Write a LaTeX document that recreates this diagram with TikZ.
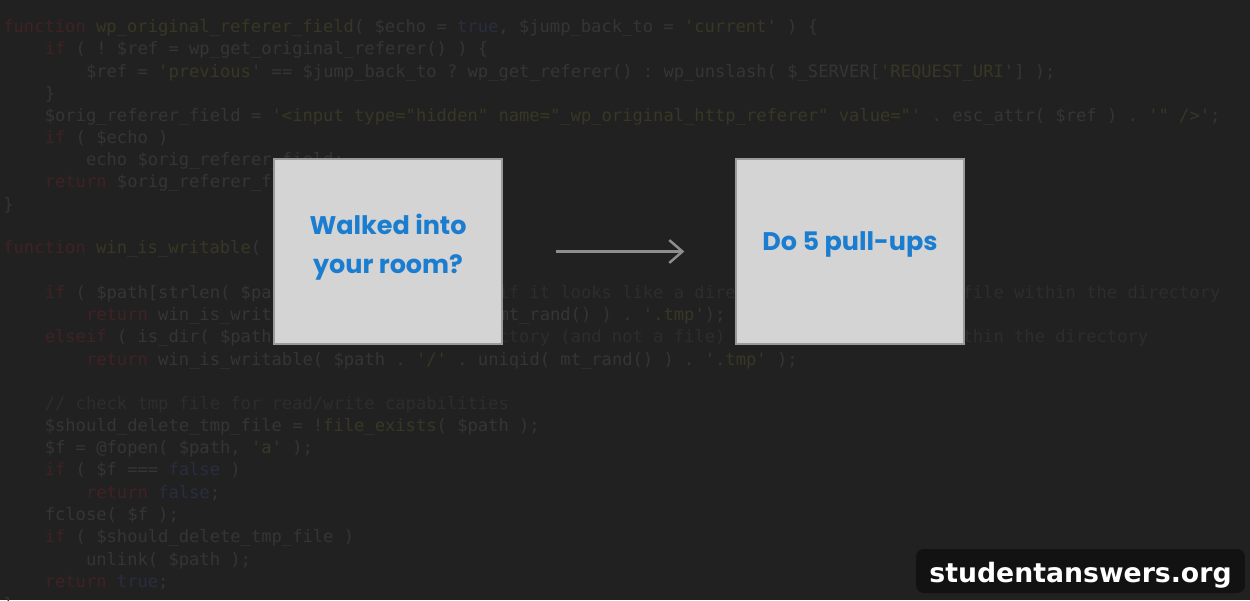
\documentclass[tikz,border=0pt]{standalone}
\usepackage{fontspec}
\setmonofont{DejaVu Sans Mono}
\newfontfamily\cardfont{Poppins}
\newfontfamily\badgefont{DejaVu Sans}
\usetikzlibrary{arrows.meta,positioning}
\definecolor{Board}{HTML}{212121}
\definecolor{CodeInk}{HTML}{353535}
\definecolor{CodeKey}{HTML}{402224}
\definecolor{CodeFun}{HTML}{383725}
\definecolor{CodeLit}{HTML}{2A2D3F}
\definecolor{CodeNote}{HTML}{2D2D2D}
\definecolor{Card}{HTML}{D4D4D4}
\definecolor{CardEdge}{HTML}{9A9A9A}
\definecolor{CardInk}{HTML}{1B7DCF}
\definecolor{Pointer}{HTML}{8E8E8E}
\definecolor{Badge}{HTML}{121212}
\newcommand{\kw}[1]{\textcolor{CodeKey}{#1}}
\newcommand{\fn}[1]{\textcolor{CodeFun}{#1}}
\newcommand{\lit}[1]{\textcolor{CodeLit}{#1}}
\newcommand{\note}[1]{\textcolor{CodeNote}{#1}}
\tikzset{
  code/.style={anchor=west,inner sep=0pt,yshift=-0.05cm,text=CodeInk,font=\ttfamily\fontsize{9.75}{12}\selectfont},
  card/.style={rectangle,fill=Card,draw=CardEdge,line width=1.1pt,minimum width=4.55cm,minimum height=3.7cm,inner sep=0pt},
  cardtext/.style={align=center,text=CardInk,font=\cardfont\bfseries\fontsize{14.5}{22.2}\selectfont},
  flow/.style={-{Straight Barb[length=7.5pt,width=13pt,line width=1.4pt]},draw=Pointer,line width=1.5pt},
  badge/.style={rectangle,rounded corners=4.5pt,fill=Badge,minimum width=6.58cm,minimum height=0.88cm,inner sep=0pt},
  badgetext/.style={text=white,font=\badgefont\bfseries\fontsize{15.2}{18}\selectfont}
}
\begin{document}
\begin{tikzpicture}[x=0.02cm,y=-0.02cm]
  \clip (0,0) rectangle (1250,600);
  \fill[Board] (0,0) rectangle (1250,600);
  % faint source code behind the cards
  \node[code] (l1) at (3,25) {\kw{function} \fn{wp\_original\_referer\_field}( \$echo = \lit{true}, \$jump\_back\_to = \fn{'current'} ) \{};
  \node[code] (l2) at (44.4,47) {\kw{if} ( ! \$ref = wp\_get\_original\_referer() ) \{};
  \node[code] (l3) at (85.7,70) {\$ref = \fn{'previous'} == \$jump\_back\_to ? wp\_get\_referer() : wp\_unslash( \$\_SERVER[\fn{'REQUEST\_URI'}] );};
  \node[code] (l4) at (44.4,92) {\}};
  \node[code] (l5) at (44.4,114) {\$orig\_referer\_field = \fn{'<input type="hidden" name="\_wp\_original\_http\_referer" value="'} . esc\_attr( \$ref ) . \fn{'" />'};};
  \node[code] (l6) at (44.4,136) {\kw{if} ( \$echo )};
  \node[code] (l7) at (85.7,158) {echo \$orig\_referer\_field;};
  \node[code] (l8) at (44.4,180) {\kw{return} \$orig\_referer\_field;};
  \node[code] (l9) at (3,203) {\}};
  \node[code] (l10) at (3,246) {\kw{function} \fn{win\_is\_writable}(};
  \node[code] (l11) at (44.4,291) {\kw{if} ( \$path[strlen( \$path ) - 1] == \fn{'/'} ) \note{// if it looks like a directory, check a random file within the directory}};
  \node[code] (l12) at (85.7,313) {\kw{return} win\_is\_writable( \$path . uniqid( mt\_rand() ) . \fn{'.tmp'});};
  \node[code] (l13) at (44.4,335) {\kw{elseif} ( is\_dir( \$path ) ) \note{// If it's a directory (and not a file) check a random file within the directory}};
  \node[code] (l14) at (85.7,358) {\kw{return} win\_is\_writable( \$path . \fn{'/'} . uniqid( mt\_rand() ) . \fn{'.tmp'} );};
  \node[code] (l15) at (44.4,402) {\note{// check tmp file for read/write capabilities}};
  \node[code] (l16) at (44.4,424) {\$should\_delete\_tmp\_file = !\fn{file\_exists}( \$path );};
  \node[code] (l17) at (44.4,446) {\$f = @fopen( \$path, \fn{'a'} );};
  \node[code] (l18) at (44.4,468) {\kw{if} ( \$f === \lit{false} )};
  \node[code] (l19) at (85.7,491) {\kw{return} \lit{false};};
  \node[code] (l20) at (44.4,513) {fclose( \$f );};
  \node[code] (l21) at (44.4,535) {\kw{if} ( \$should\_delete\_tmp\_file )};
  \node[code] (l22) at (85.7,558) {unlink( \$path );};
  \node[code] (l23) at (44.4,580) {\kw{return} \lit{true};};
  \node[code] (l24) at (3,603) {\}};
  % the two cards and the arrow
  \node[card] (b1) at (388,251.5) {};
  \node[card] (b2) at (850,251.5) {};
  \node[cardtext] (w1) at (388,247.5) {Walked into\\your room?};
  \node[cardtext] (w2) at (850,244) {Do 5 pull-ups};
  \draw[flow,shorten <=1.06cm,shorten >=1.02cm] (b1.east) -- (b2.west);
  % site badge
  \node[badge] (tag) at (1080.5,571) {};
  \node[badgetext] (site) at (1080.5,575) {studentanswers.org};
\end{tikzpicture}
\end{document}
